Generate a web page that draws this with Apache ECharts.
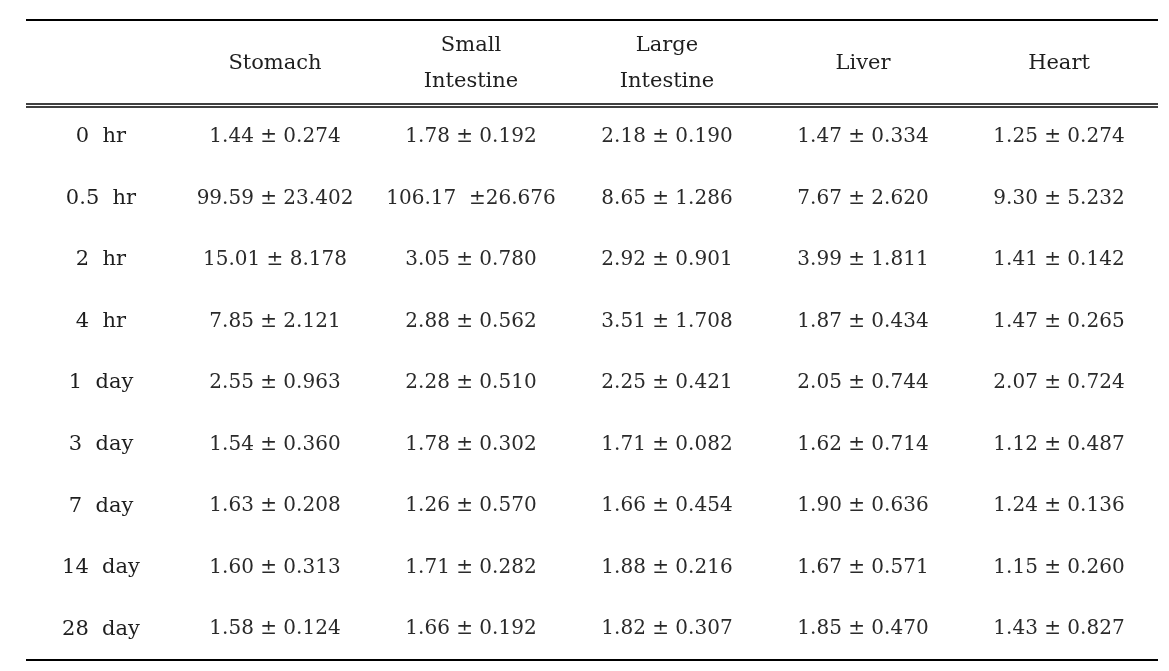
<!DOCTYPE html>
<html>
<head>
<meta charset="utf-8">
<script src="https://cdn.jsdelivr.net/npm/echarts@6/dist/echarts.min.js"></script>
<style>
html,body{margin:0;padding:0;background:#fff;}
#chart{width:1169px;height:671px;}
</style>
</head>
<body>
<div id="chart"></div>
<script>
// ---- data ----
const timepoints = ['0  hr', '0.5  hr', '2  hr', '4  hr', '1  day', '3  day', '7  day', '14  day', '28  day'];
const organs = ['Stomach', 'Small\nIntestine', 'Large\nIntestine', 'Liver', 'Heart'];

const stomachMean = [1.44, 99.59, 15.01, 7.85, 2.55, 1.54, 1.63, 1.60, 1.58];
const stomachSD   = [0.274, 23.402, 8.178, 2.121, 0.963, 0.360, 0.208, 0.313, 0.124];
const smallMean   = [1.78, 106.17, 3.05, 2.88, 2.28, 1.78, 1.26, 1.71, 1.66];
const smallSD     = [0.192, 26.676, 0.780, 0.562, 0.510, 0.302, 0.570, 0.282, 0.192];
const largeMean   = [2.18, 8.65, 2.92, 3.51, 2.25, 1.71, 1.66, 1.88, 1.82];
const largeSD     = [0.190, 1.286, 0.901, 1.708, 0.421, 0.082, 0.454, 0.216, 0.307];
const liverMean   = [1.47, 7.67, 3.99, 1.87, 2.05, 1.62, 1.90, 1.67, 1.85];
const liverSD     = [0.334, 2.620, 1.811, 0.434, 0.744, 0.714, 0.636, 0.571, 0.470];
const heartMean   = [1.25, 9.30, 1.41, 1.47, 2.07, 1.12, 1.24, 1.15, 1.43];
const heartSD     = [0.274, 5.232, 0.142, 0.265, 0.724, 0.487, 0.136, 0.260, 0.827];

const means = [stomachMean, smallMean, largeMean, liverMean, heartMean];
const sds   = [stomachSD, smallSD, largeSD, liverSD, heartSD];

// ---- layout ----
const W = 1169, H = 671;
const ruleLeft = 26, ruleRight = 1158;
const topRule = 20, headBottom = 106, bottomRule = 660;
const FONT = '"DejaVu Serif", "Liberation Serif", serif';
const TEXT = '#1e1e1e';
const VALTEXT = '#2a2a2a';

function fmt(m, s) {
  const ms = m.toFixed(2), ss = s.toFixed(3);
  if (m >= 100) return ms + '  \u00B1' + ss;
  return ms + ' \u00B1 ' + ss;
}

const series = organs.map((org, i) => ({
  type: 'scatter',
  name: org,
  symbolSize: 0,
  silent: true,
  itemStyle: { opacity: 1 },
  data: timepoints.map((t, j) => [i, j, means[i][j], sds[i][j]]),
  encode: { x: 0, y: 1 },
  label: {
    show: true,
    position: 'inside',
    color: VALTEXT,
    opacity: 1,
    fontFamily: FONT,
    fontSize: 20,
    formatter: p => fmt(p.value[2], p.value[3])
  }
}));

const chart = echarts.init(document.getElementById('chart'), null, { renderer: 'canvas' });
const option = {
  backgroundColor: '#fff',
  animation: false,
  grid: { left: 177, right: W - 1157, top: headBottom, bottom: H - bottomRule },
  xAxis: {
    type: 'category',
    position: 'top',
    data: organs,
    axisLine: { show: false },
    axisTick: { show: false },
    splitLine: { show: false },
    axisLabel: {
      margin: 42,
      verticalAlign: 'middle',
      color: TEXT,
      fontFamily: FONT,
      fontSize: 21,
      lineHeight: 36,
      interval: 0
    }
  },
  yAxis: {
    type: 'category',
    inverse: true,
    data: timepoints,
    axisLine: { show: false },
    axisTick: { show: false },
    splitLine: { show: false },
    axisLabel: {
      margin: 76,
      align: 'center',
      color: TEXT,
      fontFamily: FONT,
      fontSize: 21,
      interval: 0
    }
  },
  graphic: [
    { type: 'line', silent: true, shape: { x1: ruleLeft, y1: topRule, x2: ruleRight, y2: topRule }, style: { stroke: '#000', lineWidth: 2 } },
    { type: 'line', silent: true, shape: { x1: ruleLeft, y1: headBottom - 2, x2: ruleRight, y2: headBottom - 2 }, style: { stroke: '#000', lineWidth: 1.5 } },
    { type: 'line', silent: true, shape: { x1: ruleLeft, y1: headBottom + 1, x2: ruleRight, y2: headBottom + 1 }, style: { stroke: '#000', lineWidth: 1.5 } },
    { type: 'line', silent: true, shape: { x1: ruleLeft, y1: bottomRule, x2: ruleRight, y2: bottomRule }, style: { stroke: '#000', lineWidth: 2 } }
  ],
  series: series
};
chart.setOption(option);
</script>
</body>
</html>
